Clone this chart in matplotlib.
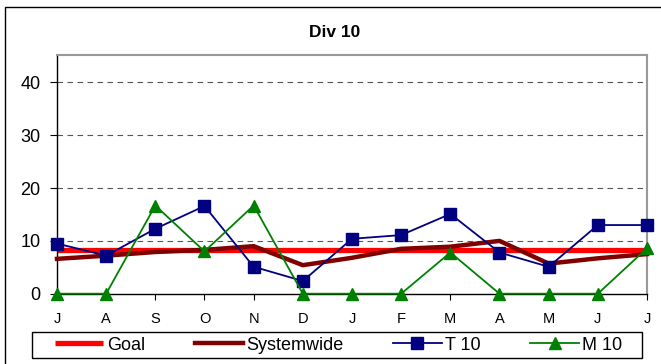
import matplotlib
matplotlib.use("Agg")
import matplotlib.pyplot as plt
from matplotlib.patches import Rectangle

months = ["J", "A", "S", "O", "N", "D", "J", "F", "M", "A", "M", "J", "J"]
goal = [8.3] * 13
systemwide = [6.6, 7.2, 7.9, 8.3, 9.0, 5.4, 6.8, 8.5, 8.9, 10.0, 5.7, 6.7, 7.5]
t10 = [9.5, 7.2, 12.3, 16.6, 5.1, 2.4, 10.4, 11.1, 15.1, 7.8, 5.1, 13.0, 13.0]
m10 = [0, 0, 16.7, 8.0, 16.7, 0, 0, 0, 7.8, 0, 0, 0, 8.6]
yticks = [0, 10, 20, 30, 40]

plt.rcParams['font.family'] = ['Liberation Sans', 'DejaVu Sans']

fig = plt.figure(figsize=(6.61, 3.64), dpi=100)
W, H = 661, 364
ax = fig.add_axes([57 / W, 1 - 293.7 / H, (647 - 57) / W, (293.7 - 55) / H])

x = list(range(len(months)))
ax.plot(x, goal, color="#FF0000", lw=3.8, label="Goal", zorder=2, solid_capstyle="butt")
ax.plot(x, systemwide, color="#800000", lw=3.2, label="Systemwide", zorder=3)
ax.plot(x, t10, color="#000080", lw=1.3, marker="s", ms=8, mfc="#000080", mec="#000080", label="T 10", zorder=4)
ax.plot(x, m10, color="#008000", lw=1.3, marker="^", ms=9, mfc="#008000", mec="#008000", label="M 10", zorder=5)

ax.set_xlim(0, 12)
ax.set_ylim(0, 45.2)
ax.set_xticks(x)
ax.set_xticklabels(months, fontsize=10.5)
ax.set_yticks(yticks)
ax.set_yticklabels([str(v) for v in yticks], fontsize=13)
ax.tick_params(axis="x", direction="out", length=4, width=0.8, pad=9, color="black")
ax.tick_params(axis="y", direction="out", length=5, width=0.8, pad=7, color="black")
for v in yticks[1:]:
    ax.axhline(v, color="#555555", lw=0.8, ls=(0, (5, 4)), zorder=1)
for s in ["left", "bottom"]:
    ax.spines[s].set_color("black")
    ax.spines[s].set_linewidth(1.0)
for s in ["top", "right"]:
    ax.spines[s].set_color("#999999")
    ax.spines[s].set_linewidth(1.5)
for line in ax.lines:
    line.set_clip_on(False)

fig.text(335 / W, 1 - 32.5 / H, "Div 10", ha="center", va="center", fontsize=12.5, fontweight="bold")

leg = fig.legend(loc="center left", bbox_to_anchor=(55 / W, 1 - 345 / H),
                 ncol=4, fontsize=13, frameon=False,
                 handlelength=2.67, handletextpad=0.2, borderaxespad=0, borderpad=0,
                 columnspacing=2.75)

fig.patches.append(Rectangle((32 / W, 1 - 358 / H), (642 - 32) / W, 26 / H, transform=fig.transFigure,
                             fill=False, edgecolor="black", lw=1.0))
fig.patches.append(Rectangle((5 / W, -0.1), 1.0, 1.1 - 7 / H, transform=fig.transFigure,
                             fill=False, edgecolor="black", lw=1.0))

fig.savefig("out.png", dpi=100)
